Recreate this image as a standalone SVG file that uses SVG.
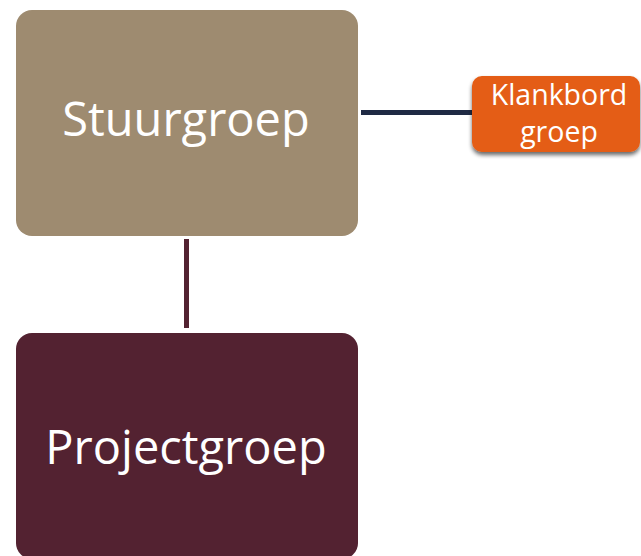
<svg xmlns="http://www.w3.org/2000/svg" width="641" height="556" viewBox="0 0 641 556">
  <defs>
    <filter id="shadow" x="-10%" y="-20%" width="120%" height="150%">
      <feGaussianBlur in="SourceAlpha" stdDeviation="2"/>
      <feOffset dx="0" dy="3" result="b"/>
      <feComponentTransfer><feFuncA type="linear" slope="0.6"/></feComponentTransfer>
      <feMerge><feMergeNode/><feMergeNode in="SourceGraphic"/></feMerge>
    </filter>
  </defs>
  <style>
    text { font-family: "Open Sans", "Noto Sans", "DejaVu Sans", sans-serif; fill: #ffffff; text-anchor: middle; }
    .big { font-size: 47px; }
    .small { font-size: 28.5px; }
  </style>
  <rect width="641" height="556" fill="#ffffff"/>
  <g id="connectors">
    <line x1="186.5" y1="239" x2="186.5" y2="328" stroke="#532231" stroke-width="5"/>
    <line x1="361" y1="112.5" x2="482" y2="112.5" stroke="#1F2A44" stroke-width="5"/>
  </g>
  <g id="stuurgroep">
    <rect x="16" y="10" width="342" height="226" rx="16" fill="#9E8B70"/>
    <text class="big" x="186" y="136">Stuurgroep</text>
  </g>
  <g id="projectgroep">
    <rect x="16" y="333" width="342" height="226" rx="16" fill="#532231"/>
    <text class="big" x="186" y="464">Projectgroep</text>
  </g>
  <g id="klankbordgroep">
    <rect x="472" y="76" width="168" height="76" rx="10" fill="#E45D13" filter="url(#shadow)"/>
    <text class="small" x="559" y="105">Klankbord</text>
    <text class="small" x="559" y="142">groep</text>
  </g>
</svg>
